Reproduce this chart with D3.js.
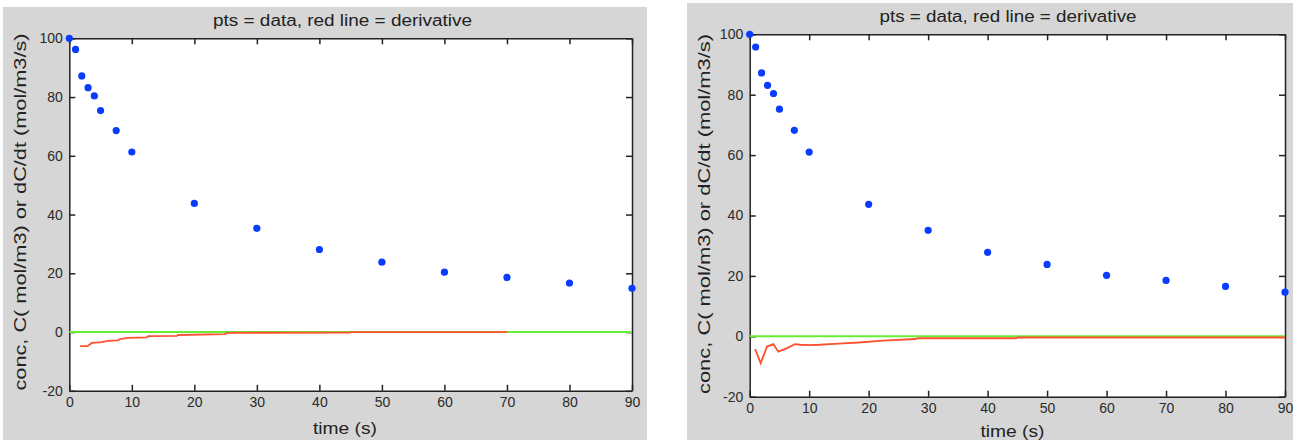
<!DOCTYPE html>
<html>
<head>
<meta charset="utf-8">
<script src="https://cdn.jsdelivr.net/npm/d3@7"></script>
<style>
  body { margin: 0; background: #fff; }
  svg { display: block; font-family: "Liberation Sans", Arial, Helvetica, sans-serif; }
  .tick text { font-size: 14px; fill: #2a2a2a; }
  .tick line, .domain { stroke: #222; stroke-width: 1.5; }
</style>
</head>
<body>
<div id="chart"></div>
<script>
// measured data (same experiment shown twice, two derivative estimates)
var timeS = [0, 1, 2, 3, 4, 5, 7.5, 10, 20, 30, 40, 50, 60, 70, 80, 90];
var concLeft = [100, 96.2, 87.2, 83.2, 80.4, 75.4, 68.6, 61.3, 43.8, 35.3, 28.1, 23.8, 20.4, 18.6, 16.7, 14.9];
var concRight = [100, 95.8, 87.2, 83.1, 80.4, 75.2, 68.2, 61, 43.7, 35.1, 27.8, 23.8, 20.2, 18.5, 16.5, 14.6];

var derivTimeLeft = [1.7, 2.9, 3.6, 4.9, 6.2, 7.8, 8.1, 9.4, 12.4, 12.6, 17.2, 17.4, 24.9, 25.2, 44.8, 45, 70];
var derivLeft = [-4.8, -4.8, -3.7, -3.5, -3.0, -2.8, -2.4, -2.0, -1.8, -1.4, -1.3, -1.0, -0.7, -0.25, -0.2, -0.05, -0.05];

var derivTimeRight = [0.9, 1.85, 2.9, 4.0, 4.8, 6.2, 7.6, 8.5, 10.1, 11.8, 14.9, 18.3, 22.5, 27.8, 28.3, 44.8, 45, 90];
var derivRight = [-4.2, -8.9, -3.4, -2.6, -5.1, -4.0, -2.6, -2.8, -2.9, -2.8, -2.4, -2.05, -1.4, -0.9, -0.6, -0.65, -0.4, -0.4];

var zeroT = [0, 90];
var zeroV = [0, 0];

var xTicks = [0, 10, 20, 30, 40, 50, 60, 70, 80, 90];
var yTicks = [-20, 0, 20, 40, 60, 80, 100];

var titleText = "pts = data, red line = derivative";
var xLabelText = "time (s)";
var yLabelText = "conc, C( mol/m3) or dC/dt (mol/m3/s)";

var svg = d3.select("#chart")
  .append("svg")
  .attr("width", 1293)
  .attr("height", 442);

function drawPanel(p) {
  svg.append("rect")
    .attr("x", p.bg[0]).attr("y", p.bg[1])
    .attr("width", p.bg[2] - p.bg[0]).attr("height", p.bg[3] - p.bg[1])
    .attr("fill", "#d6d6d6");

  var x = d3.scaleLinear().domain([0, 90]).range([p.left, p.right]);
  var y = d3.scaleLinear().domain([-20, 100]).range([p.bottom, p.top]);

  svg.append("rect")
    .attr("x", p.left).attr("y", p.top)
    .attr("width", p.right - p.left).attr("height", p.bottom - p.top)
    .attr("fill", "#fff");

  var fmt = function(d) { return String(d); };

  svg.append("g")
    .attr("transform", `translate(0, ${p.bottom})`)
    .call(d3.axisBottom(x).tickValues(xTicks).tickFormat(fmt).tickSizeInner(-6).tickSizeOuter(0).tickPadding(6));
  svg.append("g")
    .attr("transform", `translate(0, ${p.top})`)
    .call(d3.axisTop(x).tickValues(xTicks).tickFormat("").tickSizeInner(-6).tickSizeOuter(0));
  svg.append("g")
    .attr("transform", `translate(${p.left}, 0)`)
    .call(d3.axisLeft(y).tickValues(yTicks).tickFormat(fmt).tickSizeInner(-6).tickSizeOuter(0).tickPadding(6.5));
  svg.append("g")
    .attr("transform", `translate(${p.right}, 0)`)
    .call(d3.axisRight(y).tickValues(yTicks).tickFormat("").tickSizeInner(-6).tickSizeOuter(0));

  var line = d3.line()
    .x(d => x(d[0]))
    .y(d => y(d[1]));

  svg.append("path")
    .datum(d3.zip(zeroT, zeroV))
    .attr("d", line)
    .attr("fill", "none")
    .attr("stroke", "#66ee33")
    .attr("stroke-width", 2);

  svg.append("path")
    .datum(d3.zip(p.derivT, p.deriv))
    .attr("d", line)
    .attr("fill", "none")
    .attr("stroke", "#ff5030")
    .attr("stroke-width", 1.8);

  svg.append("g").selectAll("circle")
    .data(d3.zip(timeS, p.conc))
    .enter()
    .append("circle")
    .attr("cx", d => x(d[0]))
    .attr("cy", d => y(d[1]))
    .attr("r", 3.6)
    .attr("fill", "#0a3cff");

  svg.append("text")
    .attr("x", p.titleX).attr("y", p.top - 12)
    .attr("text-anchor", "middle")
    .attr("font-size", 16)
    .attr("fill", "#222")
    .attr("textLength", p.titleLen)
    .attr("lengthAdjust", "spacingAndGlyphs")
    .text(titleText);

  svg.append("text")
    .attr("x", p.xLabelX).attr("y", p.xLabelY)
    .attr("text-anchor", "middle")
    .attr("font-size", 17)
    .attr("fill", "#222")
    .attr("textLength", 64)
    .attr("lengthAdjust", "spacingAndGlyphs")
    .text(xLabelText);

  svg.append("text")
    .attr("transform", `translate(${p.yLabelX}, ${p.yLabelY}) rotate(-90)`)
    .attr("text-anchor", "middle")
    .attr("font-size", 17)
    .attr("fill", "#222")
    .attr("textLength", p.yLabelLen)
    .attr("lengthAdjust", "spacingAndGlyphs")
    .text(yLabelText);
}

drawPanel({
  bg: [3, 7, 647, 440],
  left: 69.3, right: 632, top: 38.3, bottom: 390.8,
  conc: concLeft, derivT: derivTimeLeft, deriv: derivLeft,
  titleX: 342.5, titleLen: 259,
  xLabelX: 345, xLabelY: 434,
  yLabelX: 26, yLabelY: 212, yLabelLen: 357
});

drawPanel({
  bg: [687, 3, 1293, 440],
  left: 749.7, right: 1285, top: 34.3, bottom: 396.7,
  conc: concRight, derivT: derivTimeRight, deriv: derivRight,
  titleX: 1008, titleLen: 257,
  xLabelX: 1012.5, xLabelY: 436.5,
  yLabelX: 709.5, yLabelY: 214, yLabelLen: 360
});
</script>
</body>
</html>
